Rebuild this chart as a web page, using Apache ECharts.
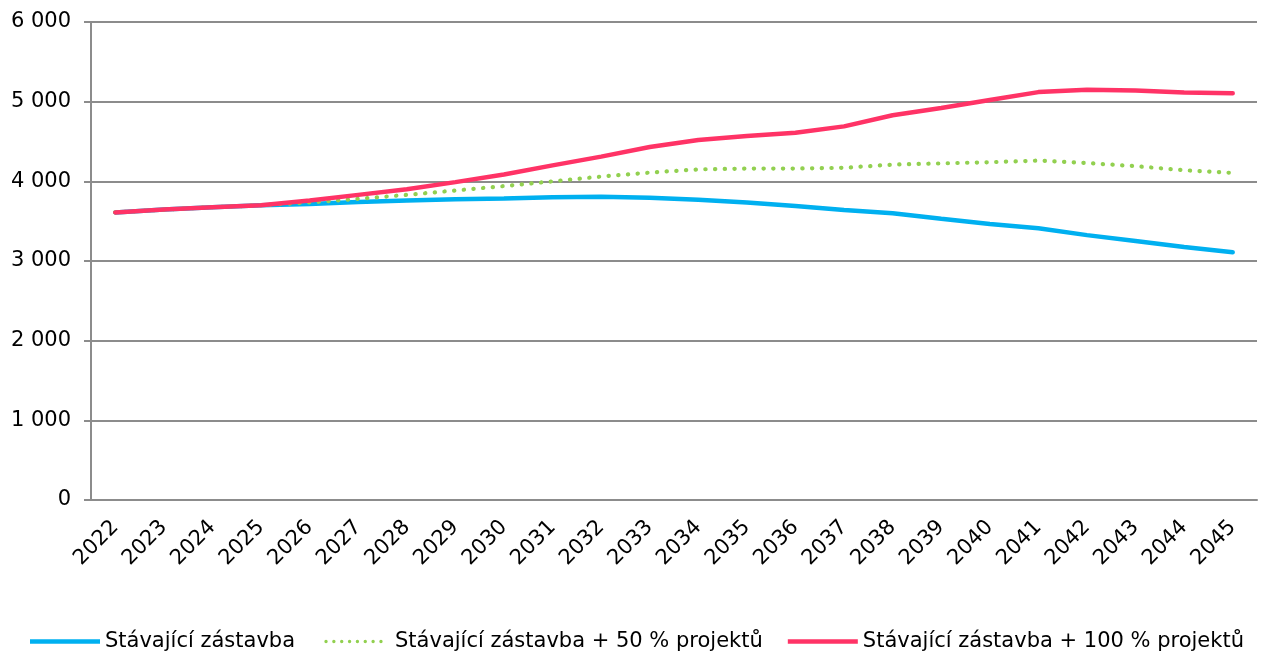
<!DOCTYPE html>
<html>
<head>
<meta charset="utf-8">
<script src="https://cdn.jsdelivr.net/npm/echarts@6/dist/echarts.min.js"></script>
<style>
  html, body { margin: 0; padding: 0; background: #fff; }
  #main { width: 1263px; height: 659px; }
</style>
</head>
<body>
<div id="main"></div>
<script>
var years = ['2022', '2023', '2024', '2025', '2026', '2027', '2028', '2029', '2030', '2031', '2032', '2033',
  '2034', '2035', '2036', '2037', '2038', '2039', '2040', '2041', '2042', '2043', '2044', '2045'];
// Stávající zástavba
var stavajici = [3610, 3645, 3675, 3700, 3715, 3740, 3760, 3775, 3785, 3800, 3805, 3795,
  3770, 3735, 3690, 3640, 3600, 3530, 3465, 3410, 3325, 3250, 3175, 3110];
// + 50 % projektů
var projekty50 = [3610, 3645, 3675, 3700, 3735, 3780, 3830, 3885, 3940, 4000, 4060, 4110,
  4150, 4160, 4160, 4170, 4210, 4225, 4240, 4260, 4230, 4190, 4140, 4105];
// + 100 % projektů
var projekty100 = [3610, 3645, 3675, 3700, 3760, 3830, 3900, 3990, 4085, 4200, 4310, 4430,
  4520, 4570, 4610, 4690, 4830, 4920, 5020, 5120, 5150, 5140, 5115, 5105];
var names = ['Stávající zástavba', 'Stávající zástavba + 50 % projektů', 'Stávající zástavba + 100 % projektů'];

var font = 'Verdana, "DejaVu Sans", sans-serif';
var gray = '#8c8c8c';

// legend icons: solid bar and a row of dots (zero-width edges keep the 70x5 box)
var solidIcon = 'path://M1,0.3 H69 V4.7 H1 Z';
var dots = 'M0,0 L0,5 M70,0 L70,5';
for (var i = 0; i < 8; i++) {
  var cx = 6 + i * 7.85;
  dots += ' M' + (cx - 1.7) + ',2.5 a1.7,1.7 0 1,0 3.4,0 a1.7,1.7 0 1,0 -3.4,0';
}
var dotIcon = 'path://' + dots;

var myChart = echarts.init(document.getElementById('main'));
var option = {
  animation: false,
  textStyle: { fontFamily: font },
  grid: { left: 91, right: 6, top: 22, bottom: 159, containLabel: false },
  legend: {
    bottom: 2,
    left: 25,
    itemWidth: 70,
    itemHeight: 5,
    itemGap: 25,
    itemStyle: { borderWidth: 0 },
    textStyle: { fontSize: 21, color: '#000', fontFamily: font },
    data: [
      { name: names[0], icon: solidIcon },
      { name: names[1], icon: dotIcon },
      { name: names[2], icon: solidIcon }
    ]
  },
  xAxis: {
    type: 'category',
    data: years,
    boundaryGap: true,
    axisLine: { lineStyle: { color: gray, width: 2 } },
    axisTick: { alignWithLabel: false, length: 7, lineStyle: { color: gray, width: 2 } },
    axisLabel: { rotate: 45, fontSize: 21, color: '#000', margin: 24, interval: 0 }
  },
  yAxis: {
    type: 'value',
    min: 0,
    max: 6000,
    interval: 1000,
    axisLine: { show: true, lineStyle: { color: gray, width: 2 } },
    axisTick: { show: true, length: 7, lineStyle: { color: gray, width: 2 } },
    splitLine: { lineStyle: { color: gray, width: 2 } },
    axisLabel: {
      fontSize: 21,
      color: '#000',
      margin: 20,
      formatter: function (v) {
        return String(v).replace(/\B(?=(\d{3})+(?!\d))/g, ' ');
      }
    }
  },
  series: [
    {
      name: names[0],
      type: 'line',
      data: stavajici,
      symbol: 'none',
      lineStyle: { color: '#00b0f0', width: 4.5, cap: 'round' },
      itemStyle: { color: '#00b0f0' }
    },
    {
      name: names[1],
      type: 'line',
      data: projekty50,
      symbol: 'none',
      lineStyle: { color: '#92d050', width: 4.2, type: [0.3, 9.4], cap: 'round' },
      itemStyle: { color: '#92d050' }
    },
    {
      name: names[2],
      type: 'line',
      data: projekty100,
      symbol: 'none',
      lineStyle: { color: '#ff3366', width: 4.5, cap: 'round' },
      itemStyle: { color: '#ff3366' }
    }
  ]
};
myChart.setOption(option);
</script>
</body>
</html>
